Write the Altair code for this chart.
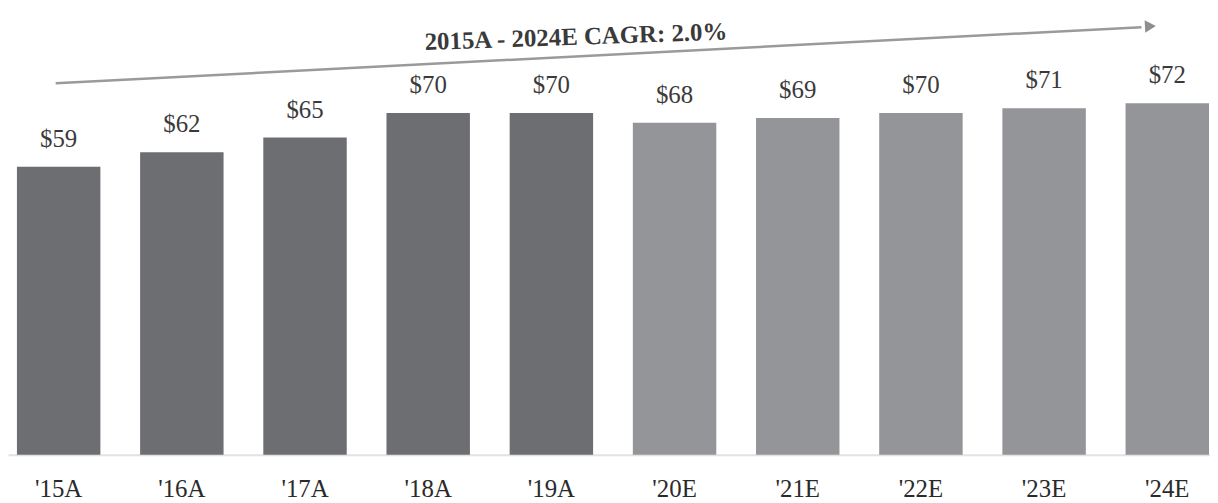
import altair as alt
import pandas as pd

years = ["'15A", "'16A", "'17A", "'18A", "'19A", "'20E", "'21E", "'22E", "'23E", "'24E"]
values = [59, 62, 65, 70, 70, 68, 69, 70, 71, 72]
kinds = ["A", "A", "A", "A", "A", "E", "E", "E", "E", "E"]
cagr_label = "2015A - 2024E CAGR: 2.0%"
arrow_start = ["'15A", 76.1]
arrow_end = ["'24E", 87.6]

df = pd.DataFrame({"year": years, "value": values, "kind": kinds})
df["label"] = ["$" + str(v) for v in values]

FONT = "Liberation Serif"
xs = alt.Scale(domain=years, paddingInner=0.3226, paddingOuter=0.0403, align=0.9)
ys = alt.Scale(domain=[0, 91.2], nice=False)

base = alt.Chart(df)
bars = base.mark_bar().encode(
    x=alt.X("year:N", scale=xs, sort=years,
            axis=alt.Axis(title=None, labelAngle=0, labelFont=FONT, labelFontSize=25,
                          labelColor="#2a2a2a", ticks=False, labelPadding=42,
                          labelBaseline="alphabetic",
                          domainColor="#e2e2e2", domainWidth=2)),
    y=alt.Y("value:Q", scale=ys, axis=None),
    color=alt.Color("kind:N", scale=alt.Scale(domain=["A", "E"], range=["#6d6e72", "#949599"]), legend=None),
)
labels = base.mark_text(baseline="alphabetic", dy=-20, font=FONT, fontSize=25, color="#3a3a3a").encode(
    x=alt.X("year:N", scale=xs, sort=years),
    y=alt.Y("value:Q", scale=ys),
    text="label:N",
)

arrow_df = pd.DataFrame({"x": [arrow_start[0]], "y": [arrow_start[1]],
                         "x2": [arrow_end[0]], "y2": [arrow_end[1]]})
arrow = alt.Chart(arrow_df).mark_rule(color="#9a9a9a", strokeWidth=2.5, xOffset=-3, x2Offset=-26).encode(
    x=alt.X("x:N", scale=xs, sort=years),
    y=alt.Y("y:Q", scale=ys),
    x2="x2:N",
    y2="y2:Q",
)
head = alt.Chart(arrow_df).mark_point(shape="triangle-right", filled=True, size=160,
                                      color="#8e8e8e", opacity=1, angle=357, xOffset=-17, yOffset=-1).encode(
    x=alt.X("x2:N", scale=xs, sort=years),
    y=alt.Y("y2:Q", scale=ys),
)
title_df = pd.DataFrame({"x": ["'19A"], "y": [84.0], "t": [cagr_label]})
title = alt.Chart(title_df).mark_text(font=FONT, fontSize=25, fontWeight="bold", color="#3a3a3a",
                                      baseline="alphabetic", angle=358, xOffset=25).encode(
    x=alt.X("x:N", scale=xs, sort=years),
    y=alt.Y("y:Q", scale=ys),
    text="t:N",
)

chart = alt.layer(bars, labels, arrow, head, title).properties(
    width=1210, height=448, padding=0, background="white"
).configure_view(stroke=None)

chart.save("out.html", embed_options={"renderer": "svg", "actions": False})
